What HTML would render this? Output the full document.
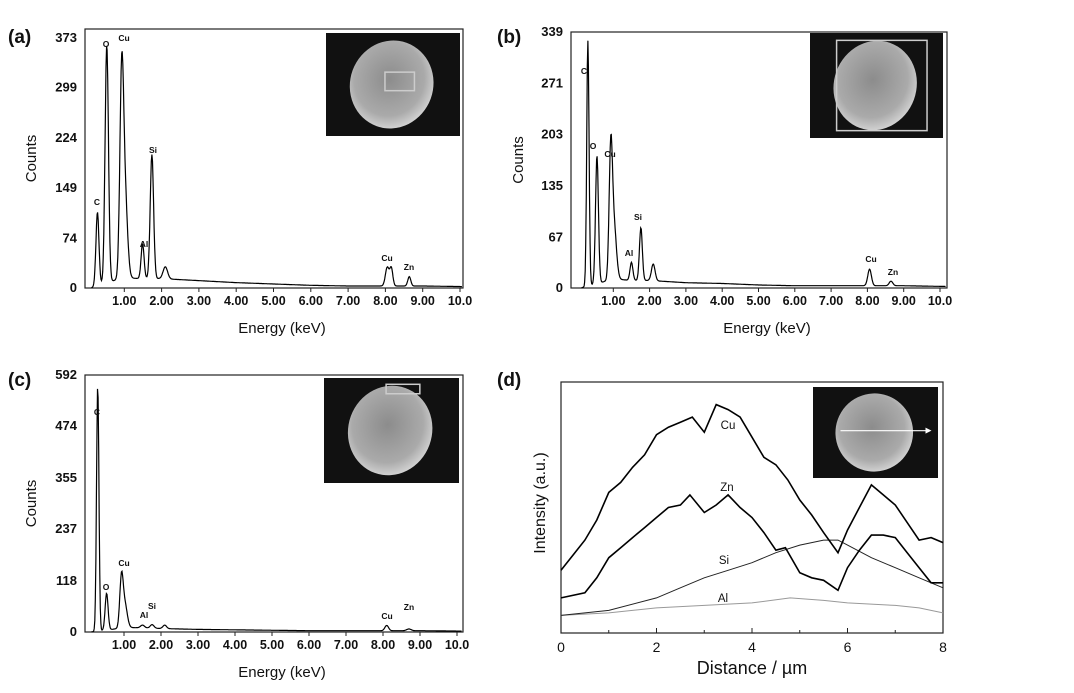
<!DOCTYPE html>
<html><head><meta charset="utf-8">
<style>
body{margin:0;background:#fff;}
svg{display:block;font-family:"Liberation Sans",sans-serif;}
</style></head>
<body>
<svg id="fig" width="1074" height="693" viewBox="0 0 1074 693">
<defs>
<radialGradient id="blob" cx="0.45" cy="0.45" r="0.6">
<stop offset="0" stop-color="#8c8c8c"/><stop offset="0.7" stop-color="#aaaaaa"/><stop offset="1" stop-color="#dadada"/>
</radialGradient>
</defs>
</svg>
<script>
// ---- Panel (a) data ----
const aPeakE=[0.28,0.53,0.93,1.02,1.49,1.74,2.1,8.05,8.16,8.64];
const aPeakH=[110,355,290,120,52,185,18,28,26,14];
const aPeakW=[0.04,0.045,0.05,0.065,0.04,0.045,0.06,0.05,0.04,0.04];
const aBaseE=[0.1,0.5,1,1.5,2,3,4,5,6,7,8,9,10.2];
const aBaseV=[0,8,15,14,14,11,8,6,4,3,3,3,2];
const aTicks=[0,74,149,224,299,373];
// ---- Panel (b) data ----
const bPeakE=[0.30,0.55,0.93,1.02,1.5,1.76,2.1,8.06,8.65];
const bPeakH=[325,170,165,70,24,70,22,22,6];
const bPeakW=[0.032,0.04,0.045,0.065,0.04,0.04,0.05,0.05,0.05];
const bBaseE=[0.1,0.5,1,1.5,2,3,4,5,6,7,8,9,10.2];
const bBaseV=[0,5,12,10,10,7,6,4,3,3,3,3,2];
const bTicks=[0,67,135,203,271,339];
// ---- Panel (c) data ----
const cPeakE=[0.29,0.53,0.93,1.02,1.5,1.76,2.1,8.1,8.7];
const cPeakH=[565,85,108,55,6,8,8,12,4];
const cPeakW=[0.032,0.04,0.045,0.065,0.05,0.05,0.05,0.05,0.06];
const cBaseE=[0.1,0.5,1,1.5,2,3,4,5,6,7,8,9,10.2];
const cBaseV=[0,4,10,10,8,6,5,4,3,3,3,3,2];
const cTicks=[0,118,237,355,474,592];
const xTickE=[1,2,3,4,5,6,7,8,9,10];
const xTickL=["1.00","2.00","3.00","4.00","5.00","6.00","7.00","8.00","9.00","10.0"];
// ---- Panel (d) data ----
const cuX=[0,0.25,0.5,0.75,1,1.25,1.5,1.75,2,2.25,2.5,2.75,3,3.25,3.5,3.75,4,4.25,4.5,4.75,5,5.25,5.5,5.8,6,6.25,6.5,6.75,7,7.25,7.5,7.75,8];
const cuV=[25,31,37,45,56,60,66,71,79,82,84,86,80,91,89,86,78,70,67,61,53,47,40,32,41,50,59,55,51,44,37,38,36];
const znX=[0,0.5,0.75,1,1.25,1.5,1.75,2,2.25,2.5,2.7,3,3.25,3.5,3.75,4,4.25,4.5,4.7,5,5.25,5.5,5.8,6,6.25,6.5,6.75,7,7.25,7.5,7.75,8];
const znV=[14,16,22,30,34,38,42,46,50,51,55,48,51,55,50,46,40,33,34,24,22,21,17,26,33,39,39,38,32,26,20,20];
const siX=[0,1,2,2.5,3,3.5,4,4.5,5,5.5,5.8,6,6.5,7,7.5,8];
const siV=[7,9,14,18,22,25,28,32,35,37,37,35,30,26,22,18];
const alX=[0,1,2,3,4,4.8,5.5,6,7,7.5,8];
const alV=[7,8,10,11,12,14,13,12,11,10,8];

const NS="http://www.w3.org/2000/svg";
const svg=document.getElementById('fig');
function mk(tag,attrs,parent){const e=document.createElementNS(NS,tag);for(const k in attrs)e.setAttribute(k,attrs[k]);(parent||svg).appendChild(e);return e;}
function txt(x,y,s,attrs,parent){const t=mk('text',Object.assign({x:x,y:y},attrs),parent);t.textContent=s;return t;}
function interp(xs,vs,x){if(x<=xs[0])return vs[0];for(let i=1;i<xs.length;i++){if(x<=xs[i]){const f=(x-xs[i-1])/(xs[i]-xs[i-1]);return vs[i-1]+f*(vs[i]-vs[i-1]);}}return vs[vs.length-1];}

function inset(g,x,y,w,h,kind){
  const r=mk('rect',{x:x,y:y,width:w,height:h,fill:'#111'},g);
  
  
  const cx=x+w*0.49,cy=y+h*0.5;
  const el=mk('ellipse',{cx:cx,cy:cy,rx:w*0.31,ry:h*0.43,fill:'url(#blob)',transform:`rotate(20 ${cx} ${cy})`},g);
  
  
  if(kind==='a'){const b=mk('rect',{x:x+w*0.44,y:y+h*0.38,width:w*0.22,height:h*0.18,fill:'none',stroke:'#ccc','stroke-width':1.5},g);}
  if(kind==='b'){const b=mk('rect',{x:x+w*0.2,y:y+h*0.07,width:w*0.68,height:h*0.86,fill:'none',stroke:'#ccc','stroke-width':1.5},g);}
  if(kind==='c'){const b=mk('rect',{x:x+w*0.46,y:y+h*0.06,width:w*0.25,height:h*0.09,fill:'none',stroke:'#ccc','stroke-width':1.5},g);}
  if(kind==='d'){const l=mk('line',{x1:x+w*0.22,y1:y+h*0.48,x2:x+w*0.9,y2:y+h*0.48,stroke:'#fff','stroke-width':1.2},g);
    const p=mk('path',{d:`M${x+w*0.9} ${y+h*0.48-3} L${x+w*0.9+6} ${y+h*0.48} L${x+w*0.9} ${y+h*0.48+3}Z`,fill:'#fff'},g);}
}

function spectrum(cfg){
  const g=mk('g',{});
  
  
  const L=cfg.L,R=cfg.R,T=cfg.T,B=cfg.B;
  const xs=e=>cfg.x0+e*cfg.kx;
  const ys=v=>B-(v/cfg.ymaxTick)*(B-cfg.yTop);
  const fr=mk('rect',{x:L,y:T,width:R-L,height:B-T,fill:'none',stroke:'#222','stroke-width':1.2},g);
  
  
  cfg.ticks.forEach(t=>{
    const l=txt(L-8,ys(t)+4,String(t),{'font-size':13,'font-weight':'bold','text-anchor':'end',fill:'#111'},g);
    
    
  });
  xTickE.forEach((e,i)=>{
    const tk=mk('line',{x1:xs(e),y1:B,x2:xs(e),y2:B+4,stroke:'#222'},g);
    
    
    const l=txt(xs(e),B+17,xTickL[i],{'font-size':12.5,'font-weight':'bold','text-anchor':'middle',fill:'#111'},g);
    
    
  });
  let d='';
  for(let e=0.12;e<=10.2;e+=0.015){
    let v=interp(cfg.baseE,cfg.baseV,e);
    for(let i=0;i<cfg.pe.length;i++){v+=cfg.ph[i]*Math.exp(-Math.pow(e-cfg.pe[i],2)/(2*cfg.pw[i]*cfg.pw[i]));}
    const px=xs(e);if(px>R-1)break;
    d+=(d?'L':'M')+px.toFixed(1)+' '+ys(v).toFixed(1);
  }
  const p=mk('path',{d:d,fill:'none',stroke:'#000','stroke-width':1.2},g);
  
  
  const yt=txt(0,0,'Counts',{'font-size':15,'text-anchor':'middle',transform:`translate(${cfg.ylx} ${(T+B)/2}) rotate(-90)`,fill:'#111'},g);
  
  
  const xt=txt((L+R)/2+8,B+45,'Energy (keV)',{'font-size':15,'text-anchor':'middle',fill:'#111'},g);
  
  
  const pl=txt(cfg.plx,cfg.ply,cfg.label,{'font-size':19,'font-weight':'bold',fill:'#111'},g);
  
  
  cfg.peakLabels.forEach(pk=>{
    const l=txt(pk[1],pk[2],pk[0],{'font-size':8.5,'font-weight':'bold','text-anchor':'middle',fill:'#111'},g);
    
    
  });
  inset(g,cfg.inset[0],cfg.inset[1],cfg.inset[2],cfg.inset[3],cfg.id);
}

spectrum({id:'a',L:85,R:463,T:29,B:288,x0:87,kx:37.3,yTop:38,ymaxTick:373,ticks:aTicks,pe:aPeakE,ph:aPeakH,pw:aPeakW,baseE:aBaseE,baseV:aBaseV,ylx:36,plx:8,ply:43,label:'(a)',
  inset:[326,33,134,103],peakLabels:[['C',97,205],['O',106,47],['Cu',124,41],['Si',153,153],['Al',144,247],['Cu',387,261],['Zn',409,270]]});
spectrum({id:'b',L:571,R:947,T:32,B:288,x0:577,kx:36.3,yTop:32,ymaxTick:339,ticks:bTicks,pe:bPeakE,ph:bPeakH,pw:bPeakW,baseE:bBaseE,baseV:bBaseV,ylx:523,plx:497,ply:43,label:'(b)',
  inset:[810,33,133,105],peakLabels:[['C',584,74],['O',593,149],['Cu',610,157],['Si',638,220],['Al',629,256],['Cu',871,262],['Zn',893,275]]});
spectrum({id:'c',L:85,R:463,T:375,B:632,x0:87,kx:37.0,yTop:375,ymaxTick:592,ticks:cTicks,pe:cPeakE,ph:cPeakH,pw:cPeakW,baseE:cBaseE,baseV:cBaseV,ylx:36,plx:8,ply:386,label:'(c)',
  inset:[324,378,135,105],peakLabels:[['C',97,415],['O',106,590],['Cu',124,566],['Si',152,609],['Al',144,618],['Cu',387,619],['Zn',409,610]]});

// ---- Panel (d) ----
(function(){
  const g=mk('g',{});
  
  
  const L=561,R=943,T=382,B=633;
  const xs=v=>L+v/8*(R-L);
  const ys=v=>B-v/100*(B-T);
  const fr=mk('rect',{x:L,y:T,width:R-L,height:B-T,fill:'none',stroke:'#222','stroke-width':1.2},g);
  
  
  for(let i=0;i<=8;i++){
    const tk=mk('line',{x1:xs(i),y1:B,x2:xs(i),y2:B-(i%2?3:5),stroke:'#222'},g);
    
    
    if(i%2===0){const l=txt(xs(i),B+19,String(i),{'font-size':14,'text-anchor':'middle',fill:'#111'},g);
      
      }
  }
  function series(xa,va,stroke,w,name){
    const d=xa.map((x,i)=>(i?'L':'M')+xs(x).toFixed(1)+' '+ys(va[i]).toFixed(1)).join('');
    const p=mk('path',{d:d,fill:'none',stroke:stroke,'stroke-width':w},g);
    
    
  }
  series(alX,alV,'#999',1,'al-profile-line');
  series(siX,siV,'#222',1,'si-profile-line');
  series(znX,znV,'#000',1.6,'zn-profile-line');
  series(cuX,cuV,'#000',1.6,'cu-profile-line');
  [['Cu',728,429],['Zn',727,491],['Si',724,564],['Al',723,602]].forEach(a=>{
    const l=txt(a[1],a[2],a[0],{'font-size':11.5,'text-anchor':'middle',fill:'#111'},g);
    
    
  });
  const yt=txt(0,0,'Intensity (a.u.)',{'font-size':16,'text-anchor':'middle',transform:'translate(545 503) rotate(-90)',fill:'#111'},g);
  
  
  const xt=txt(752,674,'Distance / \u00b5m',{'font-size':18,'text-anchor':'middle',fill:'#111'},g);
  
  
  const pl=txt(497,386,'(d)',{'font-size':19,'font-weight':'bold',fill:'#111'},g);
  
  
  inset(g,813,387,125,91,'d');
})();
</script>
</body></html>
